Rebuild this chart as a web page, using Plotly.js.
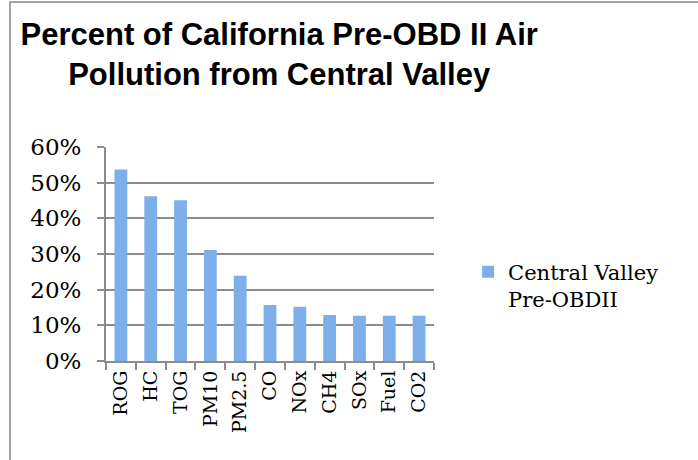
<!DOCTYPE html>
<html><head><meta charset="utf-8">
<script src="https://cdn.plot.ly/plotly-3.0.1.min.js"></script>
<style>
html,body{margin:0;padding:0;background:#fff;overflow:hidden}
#wrap{position:relative;width:698px;height:460px}
#c{width:698px;height:460px}
#frame{position:absolute;left:9px;top:1px;width:700px;height:470px;border-left:2px solid #a3a3a3;border-top:2px solid #a3a3a3;pointer-events:none}
</style>
</head><body><div id="wrap"><div id="c"></div><div id="frame"></div></div>
<script>
const categories = ["ROG","HC","TOG","PM10","PM2.5","CO","NOx","CH4","SOx","Fuel","CO2"];
const values = [0.537, 0.462, 0.451, 0.311, 0.239, 0.157, 0.152, 0.129, 0.127, 0.127, 0.127];
const seriesName = "Central Valley<br>Pre-OBDII";
const titleText = "Percent of California Pre-OBD II Air<br>Pollution from Central Valley";

const serif = "DejaVu Serif, Liberation Serif, serif";
const trace = {
  type: "bar", x: categories, y: values, name: seriesName,
  marker: {color: "#7dafea", line: {width: 0}},
  showlegend: true
};
const layout = {
  width: 698, height: 460,
  margin: {l: 106, r: 264, t: 147, b: 99},
  paper_bgcolor: "#fff", plot_bgcolor: "#fff",
  title: {text: titleText, x: 0.4, xanchor: "center", y: 0.902, yanchor: "top",
          font: {family: "Liberation Sans, sans-serif", size: 31, color: "#000", weight: "bold"}},
  xaxis: {type: "category", showline: true, linecolor: "#8c8c8c", linewidth: 2,
          ticks: "outside", tickson: "boundaries", ticklen: 7, tickcolor: "#8c8c8c", tickwidth: 2,
          tickangle: -90, tickfont: {family: serif, size: 19, color: "#000"},
          showgrid: false},
  yaxis: {range: [0, 0.6], dtick: 0.1, tickformat: ".0%", showline: true, linecolor: "#8c8c8c", linewidth: 2,
          ticks: "outside", ticklen: 7, tickcolor: "#8c8c8c", tickwidth: 2,
          showgrid: true, gridcolor: "#8c8c8c", gridwidth: 2, zeroline: false,
          tickfont: {family: serif, size: 23, color: "#000"}, ticklabelstandoff: 11},
  legend: {x: 1.104, xanchor: "left", y: 0.511, yanchor: "top", valign: "top",
           font: {family: serif, size: 21, color: "#000"}, bgcolor: "rgba(0,0,0,0)"},
  bargap: 0.57
};
Plotly.newPlot("c", [trace], layout, {displayModeBar: false, staticPlot: true});
</script></body></html>
